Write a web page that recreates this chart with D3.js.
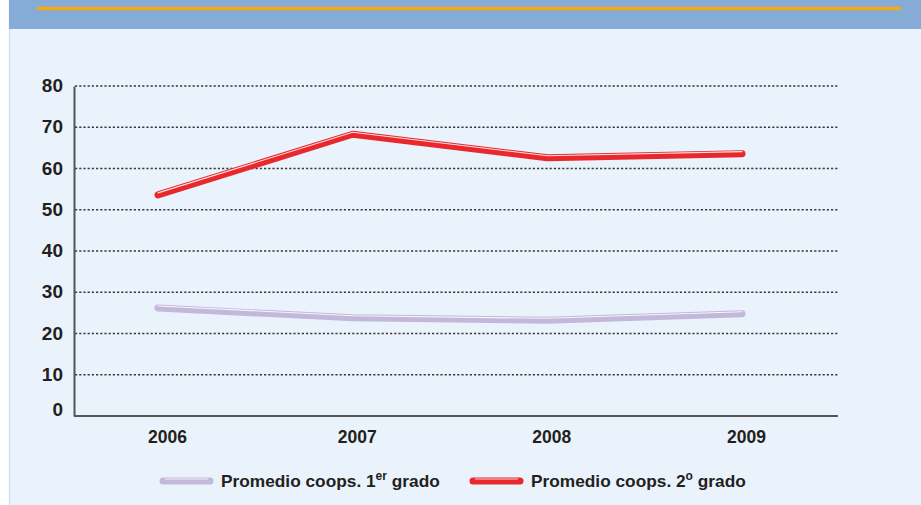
<!DOCTYPE html>
<html>
<head>
  <style>
    body { margin: 0; background: #ffffff; }
    svg { display: block; }
    text { font-family: "Liberation Sans", Arial, sans-serif; font-weight: bold; fill: #231f20; }
  </style>
</head>
<body>
  <svg id="chart" width="921" height="505"></svg>
<script src="https://cdn.jsdelivr.net/npm/d3@7"></script>
<script>
  const years = ["2006", "2007", "2008", "2009"];
  const primerGrado = [26.2, 23.8, 23.2, 24.8];
  const segundoGrado = [53.6, 68.3, 62.6, 63.6];
  const yTicks = [0, 10, 20, 30, 40, 50, 60, 70, 80];

  const series = [
    { name: "Promedio coops. 1", sup: "er", rest: " grado", values: primerGrado, color: "#c2b8da" },
    { name: "Promedio coops. 2", sup: "o", rest: " grado", values: segundoGrado, color: "#e8282d" }
  ];

  const svg = d3.select("#chart");

  // background panel
  svg.append("rect").attr("x", 9).attr("y", 0).attr("width", 912).attr("height", 505).attr("fill", "#eaf3fb");
  svg.append("line").attr("x1", 9.5).attr("x2", 9.5).attr("y1", 0).attr("y2", 505)
    .attr("stroke", "#d6e3f2").attr("stroke-width", 1.5);
  svg.append("rect").attr("x", 9).attr("y", 0).attr("width", 912).attr("height", 29).attr("fill", "#86abd6");
  svg.append("line").attr("x1", 37).attr("x2", 901).attr("y1", 8.5).attr("y2", 8.5)
    .attr("stroke", "#f2aa12").attr("stroke-width", 3.5);

  const x = d3.scalePoint().domain(years).range([158, 742]);
  const y = d3.scaleLinear().domain([0, 80]).range([416, 86]);

  // gridlines
  svg.append("g").selectAll("line")
    .data(yTicks.filter(d => d > 0))
    .join("line")
    .attr("x1", 75).attr("x2", 838)
    .attr("y1", d => y(d)).attr("y2", d => y(d))
    .attr("stroke", "#3a3a3a").attr("stroke-width", 1.6)
    .attr("stroke-dasharray", "2.2,2");

  // y axis
  const yAxis = d3.axisLeft(y).tickValues(yTicks).tickSize(0).tickPadding(11);
  const gy = svg.append("g").attr("transform", "translate(74,0)").call(yAxis);
  gy.select(".domain").attr("stroke", "#555").attr("stroke-width", 2);
  gy.selectAll(".tick text").attr("font-size", 19).attr("fill", "#231f20")
    .attr("dy", d => d === 0 ? "-0.05em" : "0.3em");

  // x axis
  const xAxis = d3.axisBottom(x).tickSize(0).tickPadding(15);
  const gx = svg.append("g").attr("transform", "translate(0,416)").call(xAxis);
  gx.select(".domain").attr("d", "M74,0H838").attr("stroke", "#555").attr("stroke-width", 2.2);
  gx.selectAll(".tick text").attr("font-size", 17.5).attr("fill", "#231f20")
    .attr("dx", d => (years.indexOf(d) === 0 ? 9 : 4));

  const line = d3.line().x((d, i) => x(years[i])).y(d => y(d));

  series.forEach(s => {
    svg.append("path").datum(s.values).attr("d", line)
      .attr("fill", "none").attr("stroke", s.color).attr("stroke-width", 7)
      .attr("stroke-linecap", "round").attr("stroke-linejoin", "round");
    svg.append("path").datum(s.values).attr("d", line)
      .attr("transform", "translate(0,-2)")
      .attr("fill", "none").attr("stroke", "#ffffff").attr("stroke-opacity", 0.85).attr("stroke-width", 1.1)
      .attr("stroke-linecap", "round");
  });

  // legend
  const legendX = [163, 473];
  series.forEach((s, i) => {
    const g = svg.append("g").attr("transform", `translate(${legendX[i]},481)`);
    g.append("line").attr("x1", 0).attr("x2", 47).attr("y1", 0).attr("y2", 0)
      .attr("stroke", s.color).attr("stroke-width", 7).attr("stroke-linecap", "round");
    g.append("line").attr("x1", 2).attr("x2", 45).attr("y1", -2).attr("y2", -2)
      .attr("stroke", "#fff").attr("stroke-opacity", 0.8).attr("stroke-width", 1);
    const t = g.append("text").attr("x", 58).attr("y", 6).attr("font-size", 17.3);
    t.append("tspan").text(s.name);
    t.append("tspan").attr("dy", -7).attr("font-size", 12).text(s.sup);
    t.append("tspan").attr("dy", 7).text(s.rest);
  });
</script>
</body>
</html>
